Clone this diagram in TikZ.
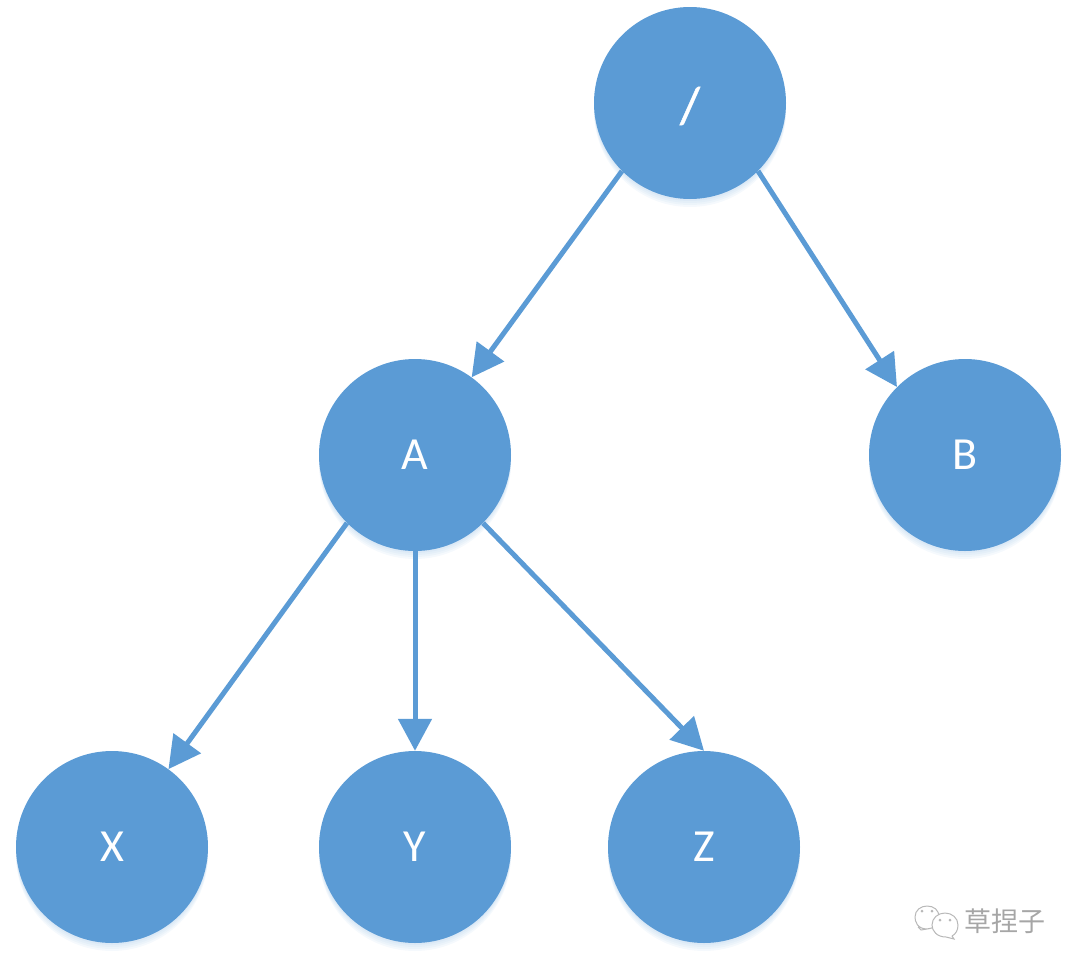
\documentclass[tikz,border=0pt]{standalone}
\usepackage{fontspec}
\setmainfont{Carlito}
\newfontfamily\cjkwm{Noto Sans CJK SC}
\usetikzlibrary{arrows.meta,shadows}
\definecolor{nodeblue}{HTML}{5B9BD5}
\definecolor{wmgray}{HTML}{A6A6A6}
\tikzset{
  softshadow/.style={drop shadow={shadow xshift=0pt,shadow yshift=-#1,shadow scale=1.0,opacity=.06,fill=nodeblue}},
  treenode/.style={circle,fill=nodeblue,draw=none,minimum size=192pt,inner sep=0pt,
    text=white,font=\fontsize{46}{50}\selectfont,softshadow=2pt,softshadow=4pt,softshadow=6pt,softshadow=8pt},
  treeedge/.style={draw=nodeblue,line width=5pt,-{Triangle[length=32pt,width=33pt,fill=nodeblue]}},
  bubble/.style={draw=wmgray!80,line width=1pt,fill=white},
  eye/.style={fill=wmgray!80,circle,inner sep=0pt,minimum size=3pt},
}
\begin{document}
\begin{tikzpicture}[x=1pt,y=-1pt]
\useasboundingbox (0,0) rectangle (1080,970);
\node[treenode] (root) at (690,103) {\fontsize{52}{54}\selectfont\addfontfeature{FakeBold=1}\raisebox{-3pt}[\height][\depth]{/}};
\node[treenode] (A) at (415,455) {A};
\node[treenode] (B) at (965,455) {B};
\node[treenode] (X) at (112,847) {X};
\node[treenode] (Y) at (415,847) {Y};
\node[treenode] (Z) at (704,847) {Z};
\draw[treeedge] (root.225) -- (A);
\draw[treeedge] (root.315) -- (B.135);
\draw[treeedge] (A.225) -- (X);
\draw[treeedge] (A.south) -- (Y.north);
\draw[treeedge] (A.315) -- (Z.north);
% watermark
\draw[bubble] (918,927) -- (921,930) -- (927,929) .. controls (917,929) and (915,921) .. (915,917)
  .. controls (915,910) and (921,906) .. (927,906) .. controls (934,906) and (939,910) .. (939,917)
  .. controls (939,923) and (934,929) .. (927,929);
\draw[bubble] (952,936) -- (954,939) -- (946,937) .. controls (937,937) and (932,931) .. (932,925)
  .. controls (932,918) and (938,913) .. (945,913) .. controls (952,913) and (958,918) .. (958,925)
  .. controls (958,930) and (956,934) .. (952,936);
\node[eye] (e1) at (922,911) {};
\node[eye] (e2) at (932,911) {};
\node[eye] (e3) at (940,920) {};
\node[eye] (e4) at (950,920) {};
\node[text=wmgray,font=\cjkwm\fontsize{27}{29}\selectfont,inner sep=0pt] (wm) at (1005,921) {草捏子};
\end{tikzpicture}
\end{document}
